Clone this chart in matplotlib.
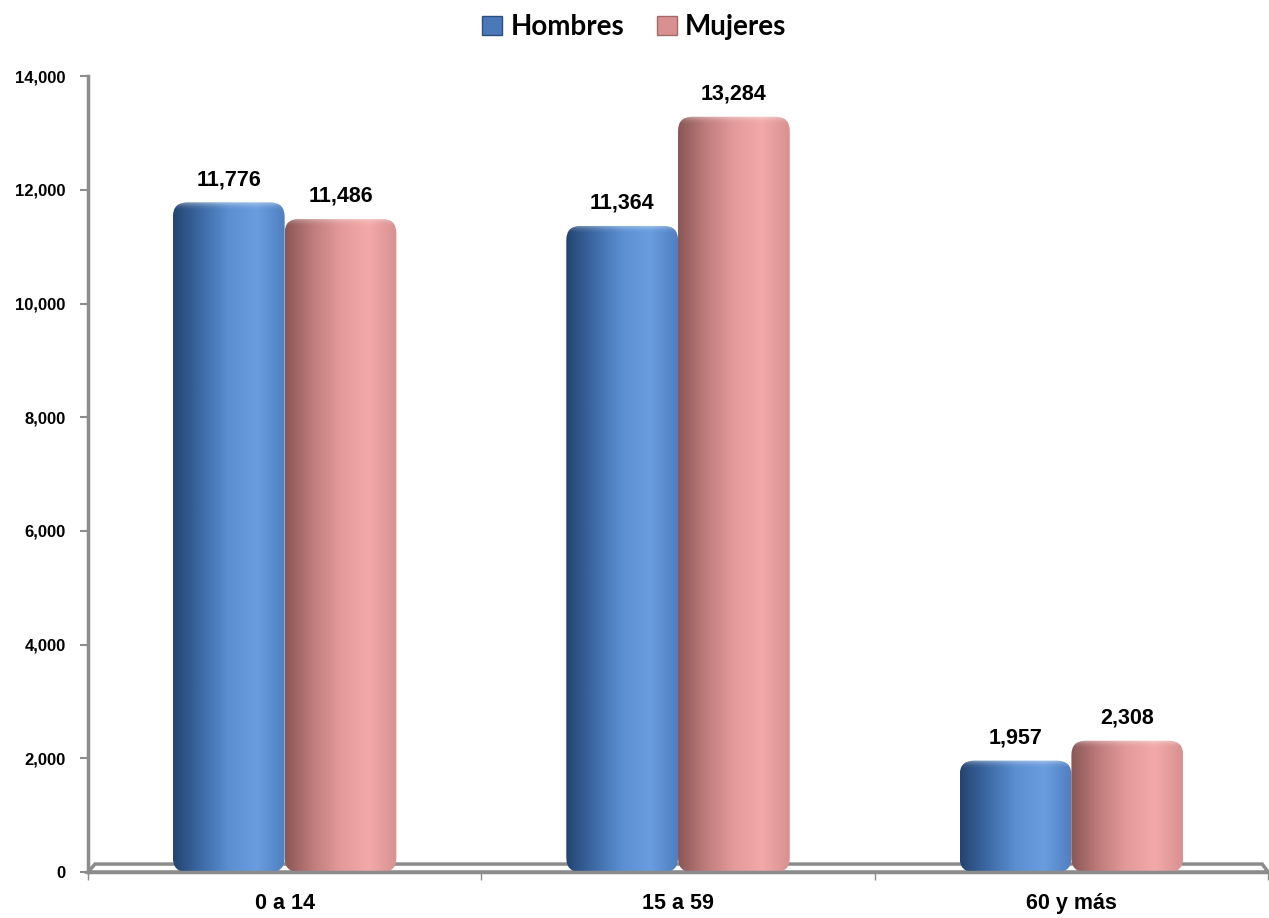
import matplotlib

matplotlib.use("Agg")
import matplotlib.pyplot as plt
import numpy as np
from matplotlib.colors import LinearSegmentedColormap
from matplotlib.patches import FancyBboxPatch, Patch, Polygon

# ----- data -----
categories = ["0 a 14", "15 a 59", "60 y más"]
hombres = [11776, 11364, 1957]
mujeres = [11486, 13284, 2308]
series_names = ["Hombres", "Mujeres"]
yticks = [0, 2000, 4000, 6000, 8000, 10000, 12000, 14000]

blue_cmap = LinearSegmentedColormap.from_list(
    "blue", ["#24446f", "#3d6aa6", "#5b8fd2", "#6a9de0", "#4f7fc0"]
)
pink_cmap = LinearSegmentedColormap.from_list(
    "pink", ["#8a5656", "#c07c7c", "#e49a9a", "#f3a9a9", "#d89090"]
)

fig = plt.figure(figsize=(12.69, 9.18), dpi=100)
ax = fig.add_axes([0.0693, 0.0501, 0.930, 0.867])

width = 0.284
x = np.arange(len(categories))
ax.set_xlim(-0.5, 2.5)
ax.set_ylim(0, 14000)

# aspect ratio (data y per data x) so rounded corners look round
px_x = 3.0 / (0.930 * 1269)
px_y = 14000 / (0.867 * 918)
aspect = px_y / px_x

grad = np.linspace(0, 1, 256).reshape(1, -1)

for vals, cmap, off in [(hombres, blue_cmap, -width / 2), (mujeres, pink_cmap, width / 2)]:
    bars = ax.bar(x + off, vals, width=width, color="none", edgecolor="none")
    for rect, v in zip(bars, vals):
        x0, w, h = rect.get_x(), rect.get_width(), rect.get_height()
        r = 14 * px_x
        clip = FancyBboxPatch(
            (x0, 0), w, h,
            boxstyle=f"round,pad=0,rounding_size={r}",
            mutation_aspect=aspect,
            facecolor="none", edgecolor="none",
        )
        ax.add_patch(clip)
        im = ax.imshow(grad, cmap=cmap, aspect="auto", extent=(x0, x0 + w, 0, h),
                       zorder=2, interpolation="bicubic")
        im.set_clip_path(clip)
        # top highlight band
        top = np.linspace(0, 1, 64).reshape(-1, 1)
        hl = np.zeros((64, 1, 4))
        hl[..., :3] = 1.0
        hl[..., 3] = 0.35 * top[:, 0:1] ** 3
        im2 = ax.imshow(hl, aspect="auto", extent=(x0, x0 + w, h - 10 * px_y, h),
                        origin="lower", zorder=3)
        im2.set_clip_path(clip)
        ax.annotate(f"{v:,}", (x0 + w / 2, h), xytext=(0, 9), textcoords="offset points",
                    ha="center", va="bottom", fontsize=15.5, fontweight="bold",
                    family="Liberation Sans")

# 3D-ish floor
floor = Polygon([(0, 0), (0.006, 0.010), (0.995, 0.010), (1.0, 0.0)], closed=True,
                transform=ax.transAxes, facecolor="white", edgecolor="#8c8c8c",
                linewidth=2.5, zorder=1, clip_on=False)
ax.add_patch(floor)

for s in ["top", "right"]:
    ax.spines[s].set_visible(False)
for s in ["left", "bottom"]:
    ax.spines[s].set_color("#8c8c8c")
    ax.spines[s].set_linewidth(2.5)

ax.set_yticks(yticks)
ax.set_yticklabels([f"{t:,}" for t in yticks], fontsize=12, fontweight="bold",
                   family="Liberation Sans")
ax.tick_params(axis="y", length=6, width=1.5, color="#8c8c8c", pad=10)

ax.set_xticks(x)
ax.set_xticklabels(categories, fontsize=15.5, fontweight="bold", family="Liberation Sans")
ax.tick_params(axis="x", which="major", length=0, pad=15)
ax.set_xticks([-0.5, 0.5, 1.5, 2.5], minor=True)
ax.tick_params(axis="x", which="minor", length=6, width=1, color="#8c8c8c")

handles = [Patch(facecolor="#4a78b8", edgecolor="#2d4e7c"),
           Patch(facecolor="#d99090", edgecolor="#a06a6a")]
fig.legend(handles, series_names, loc="upper center", bbox_to_anchor=(0.5, 1.012), ncol=2,
           frameon=False, prop={"family": "Lato", "weight": "bold", "size": 20},
           handlelength=0.7, handleheight=0.7, handletextpad=0.3, columnspacing=1.2)

fig.savefig("out.png", dpi=100)
